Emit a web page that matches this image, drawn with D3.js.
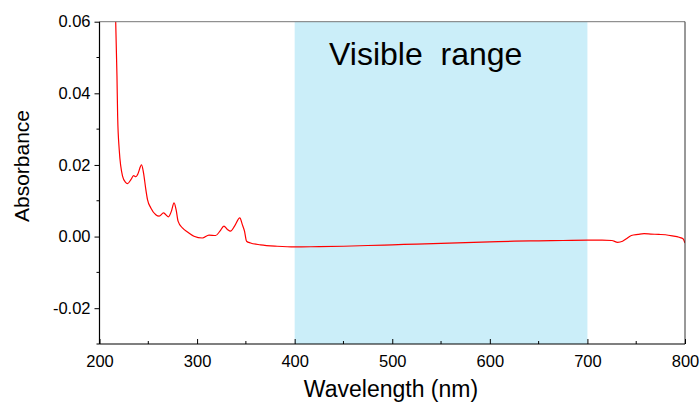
<!DOCTYPE html>
<html>
<head>
<meta charset="utf-8">
<script src="https://cdn.jsdelivr.net/npm/d3@7"></script>
<style>
  html, body { margin: 0; padding: 0; background: #fff; }
  svg { display: block; }
  text { font-family: "Liberation Sans", Arial, sans-serif; fill: #000; }
</style>
</head>
<body>
<svg id="chart" width="700" height="405"></svg>
<script>
// Absorption spectrum (wavelength in nm, absorbance)
const wavelength = [
  213, 215, 216.6, 217.9, 218.6, 220.2, 223.7, 226.5, 228.8, 232.2, 234.9, 237.3, 239, 243.1,
  245.1, 247.5, 249.2, 252.6, 257.7, 261.1, 265.6, 268, 270.6, 273.7, 276.4, 278.5,
  280.5, 285, 290.1, 296.8, 305.4, 312.2, 319, 323.4, 327.5, 331, 334.3, 338.4,
  343.8, 346.3, 348.6, 350.7, 354.8, 365, 382, 400, 425, 450, 475, 500, 525, 550,
  575, 600, 625, 650, 675, 700, 715, 725, 731, 736, 740, 745, 752, 758, 765, 773,
  780, 787, 794, 798, 800
];
const absorbance = [
  0.095, 0.072, 0.060, 0.0448, 0.0336, 0.0243, 0.0168, 0.0152, 0.0148, 0.0159, 0.0170, 0.0167, 0.0173, 0.0200,
  0.0178, 0.0131, 0.0103, 0.0080, 0.0061, 0.0057, 0.0066, 0.0061, 0.0055, 0.0071, 0.0094, 0.0075,
  0.0043, 0.0024, 0.0013, 0.0001, -0.0004, 0.0004, 0.0003, 0.0015, 0.0029, 0.0020, 0.0015, 0.0029,
  0.0052, 0.0034, 0.0015, -0.0013, -0.0018, -0.0023, -0.0027, -0.0029, -0.0028, -0.0027, -0.0025, -0.0023, -0.0021, -0.0019,
  -0.0017, -0.0015, -0.0013, -0.0012, -0.0011, -0.0010, -0.0010, -0.0011, -0.0016, -0.0013, -0.0006, 0.0003, 0.0006, 0.0008, 0.0007, 0.0006,
  0.0005, 0.0002, -0.0002, -0.0006, -0.0018
];

// Axis domains and ticks
const xDomain = [200, 800];
const yDomain = [-0.03, 0.06];
const xTicks = [200, 300, 400, 500, 600, 700, 800];
const xMinorTicks = [250, 350, 450, 550, 650, 750];
const yTicks = [-0.02, 0.00, 0.02, 0.04, 0.06];
const yMinorTicks = [-0.03, -0.01, 0.01, 0.03, 0.05];

// Highlighted band
const bandRange = [400, 700];
const bandLabel = "Visible\u00a0\u00a0range";
const xLabel = "Wavelength (nm)";
const yLabel = "Absorbance";

const plotLeft = 99.5, plotRight = 685, plotTop = 21.7, plotBottom = 344;
const svg = d3.select("#chart");

const x = d3.scaleLinear().domain(xDomain).range([plotLeft, plotRight]);
const y = d3.scaleLinear().domain(yDomain).range([plotBottom, plotTop]);

svg.append("defs").append("clipPath").attr("id", "plot-clip")
  .append("rect").attr("x", plotLeft).attr("y", plotTop)
  .attr("width", plotRight - plotLeft).attr("height", plotBottom - plotTop);

// Visible band
svg.append("rect")
  .attr("x", x(bandRange[0])).attr("y", plotTop)
  .attr("width", x(bandRange[1]) - x(bandRange[0]))
  .attr("height", plotBottom - plotTop)
  .attr("fill", "#cbeef9");

svg.append("text")
  .attr("x", 329).attr("y", 65)
  .attr("font-size", 32)
  .text(bandLabel);

// Spectrum
const data = wavelength.map((w, i) => ({ w, a: absorbance[i] }));
svg.append("path")
  .datum(data)
  .attr("clip-path", "url(#plot-clip)")
  .attr("fill", "none")
  .attr("stroke", "#ff0000")
  .attr("stroke-width", 1.2)
  .attr("d", d3.line().x(d => x(d.w)).y(d => y(d.a)).curve(d3.curveMonotoneX));

// Frame: top and right
svg.append("line").attr("x1", plotLeft).attr("x2", plotRight).attr("y1", plotTop).attr("y2", plotTop)
  .attr("stroke", "#777").attr("stroke-width", 1);
svg.append("line").attr("x1", plotRight).attr("x2", plotRight).attr("y1", plotTop).attr("y2", plotBottom)
  .attr("stroke", "#333").attr("stroke-width", 1);

// Bottom axis: ticks pointing inward
const xAxis = svg.append("g").attr("transform", `translate(0,${plotBottom})`)
  .call(d3.axisBottom(x).tickValues(xTicks).tickFormat(d3.format("d")).tickSize(-5).tickPadding(11));
xAxis.append("g").selectAll("line").data(xMinorTicks).join("line")
  .attr("x1", d => x(d)).attr("x2", d => x(d)).attr("y1", 0).attr("y2", -3)
  .attr("stroke", "#000");

// Left axis: ticks pointing outward
const yAxis = svg.append("g").attr("transform", `translate(${plotLeft},0)`)
  .call(d3.axisLeft(y).tickValues(yTicks).tickFormat(d3.format(".2f")).tickSize(5).tickPadding(4));
yAxis.append("g").selectAll("line").data(yMinorTicks).join("line")
  .attr("x1", 0).attr("x2", -3).attr("y1", d => y(d)).attr("y2", d => y(d))
  .attr("stroke", "#000");

[xAxis, yAxis].forEach(g => {
  g.select(".domain").attr("stroke", "#000").attr("stroke-width", 1.2);
  g.selectAll(".tick line").attr("stroke", "#000");
  g.selectAll("text").attr("font-family", "Liberation Sans, Arial, sans-serif")
    .attr("font-size", 16.5).attr("fill", "#000");
});
xAxis.select(".domain").attr("d", `M${plotLeft},0H${plotRight}`);
yAxis.select(".domain").attr("d", `M0,${plotTop}V${plotBottom}`);
yAxis.selectAll(".tick text").text(d => d3.format(".2f")(d).replace("\u2212", "-"));

// Axis titles
svg.append("text")
  .attr("x", 391).attr("y", 397)
  .attr("text-anchor", "middle").attr("font-size", 23)
  .text(xLabel);
svg.append("text")
  .attr("transform", "translate(29,166) rotate(-90)")
  .attr("text-anchor", "middle").attr("font-size", 21)
  .text(yLabel);
</script>
</body>
</html>
